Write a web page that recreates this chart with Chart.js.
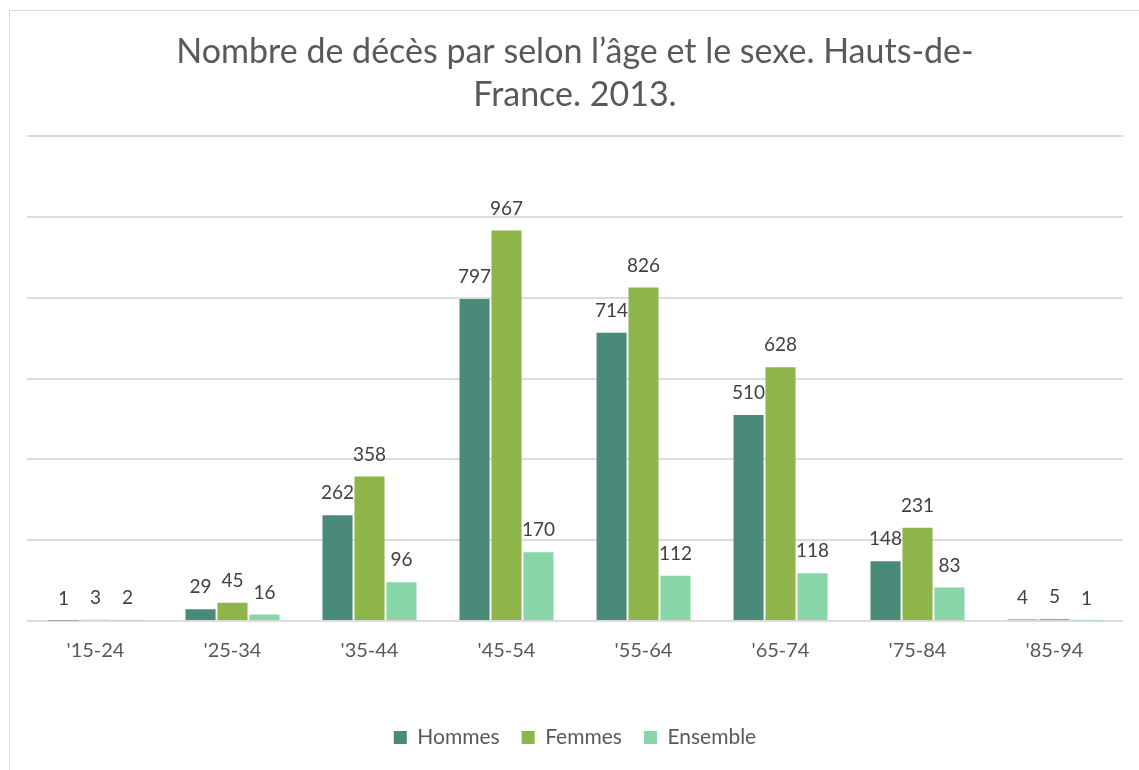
<!DOCTYPE html>
<html>
<head>
<meta charset="utf-8">
<script src="https://cdn.jsdelivr.net/npm/chart.js@4"></script>
<style>
  body { margin: 0; background: #fff; }
  #wrap { position: relative; width: 1139px; height: 770px; overflow: hidden; }
  #frame { position: absolute; left: 9px; top: 10px; width: 1200px; height: 800px; border: 1px solid #d9d9d9; box-sizing: border-box; }
  #chart { position: absolute; left: 0; top: 0; }
</style>
</head>
<body>
<div id="wrap">
  <div id="frame"></div>
  <canvas id="chart" width="1139" height="770"></canvas>
</div>
<script>
const ageGroups = ["'15-24", "'25-34", "'35-44", "'45-54", "'55-64", "'65-74", "'75-84", "'85-94"];
const hommes = [1, 29, 262, 797, 714, 510, 148, 4];
const femmes = [3, 45, 358, 967, 826, 628, 231, 5];
const ensemble = [2, 16, 96, 170, 112, 118, 83, 1];
const yTicks = [0, 200, 400, 600, 800, 1000, 1200];

const textColor = '#595959';

// value labels above each bar
const barLabels = {
    id: 'barLabels',
    afterDatasetsDraw(chart) {
        const ctx = chart.ctx;
        ctx.save();
        ctx.font = '19px Lato';
        ctx.fillStyle = '#404040';
        ctx.textAlign = 'center';
        ctx.textBaseline = 'middle';
        chart.data.datasets.forEach((ds, i) => {
            chart.getDatasetMeta(i).data.forEach((bar, j) => {
                ctx.fillText(ds.data[j], bar.x, bar.y - 22);
            });
        });
        ctx.restore();
    }
};

new Chart(document.getElementById('chart'), {
    type: 'bar',
    data: {
        labels: ageGroups,
        datasets: [{
            label: 'Hommes',
            data: hommes,
            backgroundColor: '#4a8a78'
        }, {
            label: 'Femmes',
            data: femmes,
            backgroundColor: '#8db54a'
        }, {
            label: 'Ensemble',
            data: ensemble,
            backgroundColor: '#88d5a8'
        }]
    },
    options: {
        responsive: false,
        animation: false,
        layout: { padding: { top: 10, left: 27, right: 16, bottom: 12 } },
        datasets: {
            bar: { barPercentage: 0.94, categoryPercentage: 0.7 }
        },
        plugins: {
            title: {
                display: true,
                text: ['Nombre de décès par selon l’âge et le sexe. Hauts-de-', 'France. 2013.'],
                color: textColor,
                font: { family: 'Lato', size: 34, weight: 'normal', lineHeight: 1.27 },
                padding: { top: 20, bottom: 20 }
            },
            legend: {
                position: 'bottom',
                labels: {
                    color: textColor,
                    font: { family: 'Lato', size: 21 },
                    boxWidth: 13,
                    boxHeight: 13,
                    padding: 22
                }
            },
            tooltip: { enabled: false }
        },
        scales: {
            x: {
                grid: { display: false, drawTicks: false },
                border: { display: false },
                ticks: { color: textColor, font: { family: 'Lato', size: 20 }, padding: 18 },
                afterFit(scale) { scale.height += 24; }
            },
            y: {
                min: 0,
                max: 1200,
                afterBuildTicks(scale) { scale.ticks = yTicks.map(v => ({ value: v })); },
                ticks: { display: false },
                grid: { color: '#dcdcdc', lineWidth: 2, drawTicks: false },
                border: { display: false }
            }
        }
    },
    plugins: [barLabels]
});
</script>
</body>
</html>
